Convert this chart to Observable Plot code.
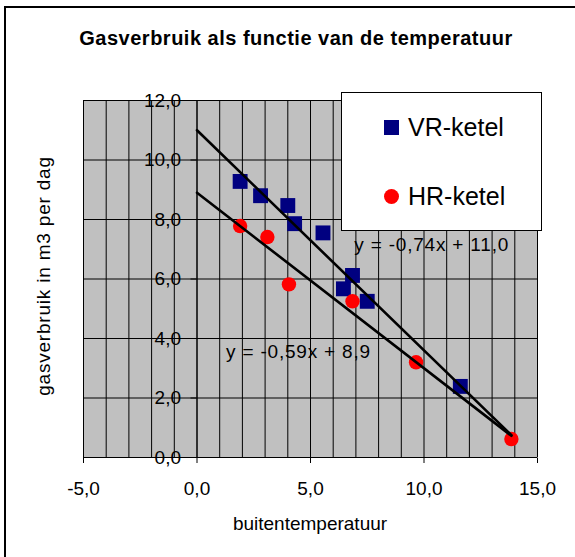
<!DOCTYPE html>
<html>
<head>
<meta charset="utf-8">
<script src="https://cdn.jsdelivr.net/npm/d3@7"></script>
<script src="https://cdn.jsdelivr.net/npm/@observablehq/plot@0.6"></script>
<style>
  html, body { margin: 0; padding: 0; background: #fff; overflow: hidden; }
  #wrap { position: relative; width: 575px; height: 557px; font-family: "Liberation Sans", Arial, sans-serif; color: #000; }
  #border { position: absolute; left: 4px; top: 6px; width: 640px; height: 640px; border: 2px solid #000; box-sizing: border-box; }
  #chart { position: absolute; left: 0; top: 0; }
  .lbl { position: absolute; white-space: nowrap; transform: translate(-50%, -50%); }
  #title { left: 296px; top: 38px; font-size: 20px; font-weight: bold; letter-spacing: 0.5px; }
  #xlabel { left: 310px; top: 524px; font-size: 19px; }
  #ylabel { left: 44px; top: 276px; font-size: 19px; letter-spacing: 0.8px; transform: translate(-50%, -50%) rotate(-90deg); }
  #legend { position: absolute; left: 341px; top: 92px; width: 201px; height: 139px; background: #fff; border: 1px solid #000; box-sizing: border-box; }
  .item { position: absolute; left: 0; font-size: 25px; line-height: 25px; }
  .item span.sym { position: absolute; }
  .item span.txt { position: absolute; left: 66px; top: -12px; white-space: nowrap; }
</style>
</head>
<body>
<div id="wrap">
  <div id="border"></div>
  <div id="chart"></div>
  <div id="title" class="lbl"></div>
  <div id="xlabel" class="lbl"></div>
  <div id="ylabel" class="lbl"></div>
  <div id="legend"></div>
</div>
<script>
// ---- Data ----
const title = "Gasverbruik als functie van de temperatuur";
const xLabel = "buitentemperatuur";
const yLabel = "gasverbruik in m3 per dag";

const seriesNames = ["VR-ketel", "HR-ketel"];
const seriesColors = ["#000080", "#ff0000"];

const vrTemp = [1.9, 2.8, 4.0, 4.3, 5.55, 6.85, 6.45, 7.5, 11.6];
const vrGas  = [9.28, 8.8, 8.47, 7.86, 7.55, 6.12, 5.67, 5.25, 2.39];

const hrTemp = [1.9, 3.1, 4.05, 6.85, 9.65, 13.85];
const hrGas  = [7.78, 7.41, 5.82, 5.25, 3.2, 0.62];

// trendlines (as shown in the chart)
const trendSlope = [-0.74, -0.59];
const trendIntercept = [11.0, 8.9];
const trendStart = [0, 0];
const trendEnd = [13.85, 13.85];
// equation label anchors (data units)
const eqLabelX = [6.93, 1.28];
const eqLabelY = [7.16, 3.54];

const xTicks = [-5, 0, 5, 10, 15];
const xGrid = d3.range(-5, 16, 1);
const yTicks = [0, 2, 4, 6, 8, 10, 12];

// ---- Build ----
const fmt1 = v => v.toFixed(1).replace(".", ",");
const fmt2 = v => v.toFixed(2).replace(".", ",");

const vr = vrTemp.map((t, i) => ({t, g: vrGas[i]}));
const hr = hrTemp.map((t, i) => ({t, g: hrGas[i]}));
const trendLines = trendSlope.map((m, i) => [
  {t: trendStart[i], g: trendIntercept[i] + m * trendStart[i], s: i},
  {t: trendEnd[i], g: trendIntercept[i] + m * trendEnd[i], s: i}
]);
const eqLabels = trendSlope.map((m, i) => ({
  x: eqLabelX[i], y: eqLabelY[i],
  text: `y = ${fmt2(m)}x + ${fmt1(trendIntercept[i])}`
}));

const font = "Liberation Sans, Arial, sans-serif";

const plot = Plot.plot({
  width: 575,
  height: 557,
  marginLeft: 83,
  marginRight: 38,
  marginTop: 100,
  marginBottom: 100,
  style: {fontFamily: font, fontSize: "19px", background: "transparent", color: "#000"},
  x: {domain: [-5, 15], ticks: xTicks, tickSize: 6, tickPadding: 18, tickFormat: fmt1, label: null},
  y: {domain: [0, 12], axis: null},
  marks: [
    Plot.frame({fill: "#c0c0c0", stroke: "#808080"}),
    Plot.ruleX(xGrid, {stroke: "#000", strokeWidth: 1}),
    Plot.ruleY(yTicks, {stroke: "#000", strokeWidth: 1}),
    Plot.ruleX([0], {stroke: "#000", strokeWidth: 1}),
    Plot.ruleY([0], {stroke: "#000", strokeWidth: 1}),
    Plot.ruleY(yTicks, {x1: 0, x2: 0, insetLeft: -6, stroke: "#000"}),
    Plot.text(yTicks, {x: 0, y: d => d, text: d => fmt1(d), textAnchor: "end", dx: -16, fontSize: 19}),
    Plot.dot(vr, {x: "t", y: "g", symbol: "square", r: 8.4, fill: seriesColors[0], stroke: "none"}),
    Plot.dot(hr, {x: "t", y: "g", symbol: "circle", r: 7.2, fill: seriesColors[1], stroke: "none"}),
    ...trendLines.map(l => Plot.line(l, {x: "t", y: "g", stroke: "#000", strokeWidth: 2.6})),
    Plot.text(eqLabels, {x: "x", y: "y", text: "text", textAnchor: "start", fontSize: 19, letterSpacing: "0.8px"})
  ]
});
document.getElementById("chart").appendChild(plot);
// letter spacing for equation labels (style attribute on text mark group)
plot.querySelectorAll("text").forEach(t => {
  if (t.textContent.startsWith("y =")) t.style.letterSpacing = "0.8px";
});

document.getElementById("title").textContent = title;
document.getElementById("xlabel").textContent = xLabel;
document.getElementById("ylabel").textContent = yLabel;

// legend
const legend = document.getElementById("legend");
const legendRows = [34, 103];
seriesNames.forEach((name, i) => {
  const item = document.createElement("div");
  item.className = "item";
  item.style.top = legendRows[i] + "px";
  const sym = document.createElement("span");
  sym.className = "sym";
  if (i === 0) {
    sym.style.cssText = `left:42px;top:-7.5px;width:15px;height:15px;background:${seriesColors[i]};`;
  } else {
    sym.style.cssText = `left:42px;top:-7.5px;width:15px;height:15px;border-radius:50%;background:${seriesColors[i]};`;
  }
  const txt = document.createElement("span");
  txt.className = "txt";
  txt.textContent = name;
  item.appendChild(sym);
  item.appendChild(txt);
  legend.appendChild(item);
});
</script>
</body>
</html>
